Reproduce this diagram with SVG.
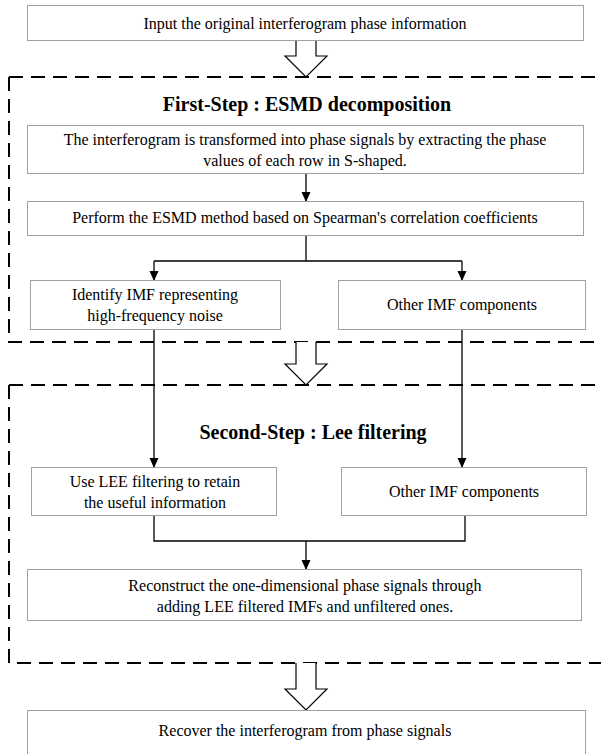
<svg xmlns="http://www.w3.org/2000/svg" width="601" height="754" viewBox="0 0 601 754">
<style>
.box{fill:#fff;stroke:#a0a0a0;stroke-width:1}
text{font-family:'Liberation Serif','Tinos','DejaVu Serif',serif;fill:#000;text-anchor:middle}
.t{font-size:16px}
.h{font-size:20px;font-weight:bold}
.dash{fill:none;stroke:#000;stroke-width:2;stroke-dasharray:14 8}
.c{fill:none;stroke:#000;stroke-width:1.3}
.hollow{fill:#fff;stroke:#000;stroke-width:1.2}
</style>
<defs>
<marker id="ah" markerWidth="10" markerHeight="11" refX="9" refY="5" orient="auto" markerUnits="userSpaceOnUse">
<path d="M0,0.5 L10,5 L0,9.5 Z" fill="#000"/>
</marker>
</defs>
<rect width="601" height="754" fill="#fff"/>
<g id="groups">
<path class="dash" d="M9,77 V342 H610 M9,77 H610"/>
<path class="dash" d="M9,385 V663 H610 M9,385 H610"/>
</g>
<g id="connectors">
<path class="hollow" d="M296,41 V56 H285 L306,77 L327,56 H316 V41"/>
<path class="hollow" d="M296,342 V364 H285 L306,385 L327,364 H316 V342"/>
<path class="hollow" d="M296,663 V689 H285 L306,710 L327,689 H316 V663"/>
<path class="c" d="M306,173 V201" marker-end="url(#ah)"/>
<path class="c" d="M306,235 V261 H154 M306,261 H462"/>
<path class="c" d="M154,261 V280" marker-end="url(#ah)"/>
<path class="c" d="M462,261 V280" marker-end="url(#ah)"/>
<path class="c" d="M154,329 V467" marker-end="url(#ah)"/>
<path class="c" d="M462,329 V467" marker-end="url(#ah)"/>
<path class="c" d="M154,515 V541 H465 V515"/>
<path class="c" d="M306,541 V569" marker-end="url(#ah)"/>
</g>
<g id="n1"><rect class="box" x="27.5" y="5.5" width="556" height="35"/><text class="t" x="305" y="29">Input the original interferogram phase information</text></g>
<g id="h1"><text class="h" x="307" y="111">First-Step : ESMD decomposition</text></g>
<g id="n2"><rect class="box" x="27.5" y="125.5" width="556" height="48"/><text class="t" x="305" y="145">The interferogram is transformed into phase signals by extracting the phase</text><text class="t" x="305" y="166">values of each row in S-shaped.</text></g>
<g id="n3"><rect class="box" x="27.5" y="201.5" width="556" height="34"/><text class="t" x="305" y="223">Perform the ESMD method based on Spearman's correlation coefficients</text></g>
<g id="n4"><rect class="box" x="30.5" y="280.5" width="250" height="49"/><text class="t" x="155" y="300">Identify IMF representing</text><text class="t" x="155" y="321">high-frequency noise</text></g>
<g id="n5"><rect class="box" x="338.5" y="280.5" width="247" height="49"/><text class="t" x="462" y="310">Other IMF components</text></g>
<g id="h2"><text class="h" x="313" y="439">Second-Step : Lee filtering</text></g>
<g id="n6"><rect class="box" x="31.5" y="467.5" width="245" height="48"/><text class="t" x="155" y="487">Use LEE filtering to retain</text><text class="t" x="155" y="508">the useful information</text></g>
<g id="n7"><rect class="box" x="341.5" y="467.5" width="245" height="48"/><text class="t" x="464" y="497">Other IMF components</text></g>
<g id="n8"><rect class="box" x="27.5" y="569.5" width="554" height="51"/><text class="t" x="305" y="591">Reconstruct the one-dimensional phase signals through</text><text class="t" x="305" y="612">adding LEE filtered IMFs and unfiltered ones.</text></g>
<g id="n9"><rect class="box" x="27.5" y="710.5" width="558" height="50"/><text class="t" x="305" y="736">Recover the interferogram from phase signals</text></g>
</svg>
